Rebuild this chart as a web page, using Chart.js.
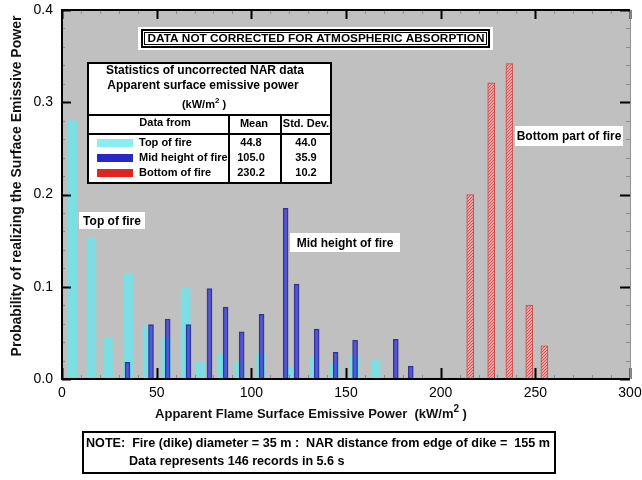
<!DOCTYPE html>
<html>
<head>
<meta charset="utf-8">
<script src="https://cdn.jsdelivr.net/npm/chart.js@4.4.0/dist/chart.umd.min.js"></script>
<style>
    html, body { margin: 0; padding: 0; background: #fff; }
    #wrap { width: 642px; height: 480px; }
</style>
</head>
<body>
<div id="wrap"><canvas id="sepChart" width="642" height="480"></canvas></div>
<script>
// bin centres (kW/m2) and probabilities
const topX = [5.5, 15.6, 24.3, 35, 45.2, 55, 65.3, 72.9, 84.6, 93.6, 105.2, 120.5, 133.7, 143.8, 154.3, 165.7];
const topY = [0.28, 0.153, 0.045, 0.114, 0.058, 0.045, 0.098, 0.018, 0.028, 0.018, 0.028, 0.013, 0.024, 0.017, 0.026, 0.02];
const midX = [34.6, 47.0, 55.8, 66.8, 77.9, 86.4, 94.9, 105.4, 118.1, 123.9, 134.5, 144.5, 154.8, 176.3, 184.2];
const midY = [0.018, 0.059, 0.065, 0.059, 0.098, 0.078, 0.051, 0.07, 0.185, 0.103, 0.054, 0.029, 0.042, 0.043, 0.014];
const botX = [215.6, 226.7, 236.3, 246.8, 254.8];
const botY = [0.2, 0.321, 0.342, 0.08, 0.036];

const xTicks = [0, 50, 100, 150, 200, 250, 300];
const yTicks = [0.0, 0.1, 0.2, 0.3, 0.4];

// statistics table
const statRows = ['Top of fire', 'Mid height of fire', 'Bottom of fire'];
const statMean = ['44.8', '105.0', '230.2'];
const statStd = ['44.0', '35.9', '10.2'];

const FONT = "'Liberation Sans', Arial, sans-serif";
const CYAN = '#7cdee2';
const BLUE = 'rgba(62, 62, 204, 0.8)';
const RED = '#d04848';

function toPoints(xs, ys) {
    return xs.map((x, i) => ({ x: x, y: ys[i] }));
}

function redHatch() {
    const c = document.createElement('canvas');
    c.width = 3; c.height = 3;
    const g = c.getContext('2d');
    g.fillStyle = '#e8a4a4';
    g.fillRect(0, 0, 3, 3);
    g.fillStyle = '#d25a5a';
    g.fillRect(2, 0, 1, 1);
    g.fillRect(1, 1, 1, 1);
    g.fillRect(0, 2, 1, 1);
    return g.createPattern(c, 'repeat');
}

function labelBox(ctx, text, x, y, w, h) {
    ctx.fillStyle = '#fff';
    ctx.fillRect(x, y, w, h);
    ctx.fillStyle = '#000';
    ctx.font = 'bold 12px ' + FONT;
    ctx.textAlign = 'center';
    ctx.textBaseline = 'middle';
    ctx.fillText(text, x + w / 2, y + h / 2 + 1);
}

// text with "m2" superscript, centred on cx
function supText(ctx, before, sup, after, cx, cy, size, weight) {
    ctx.textBaseline = 'middle';
    ctx.textAlign = 'left';
    const big = weight + ' ' + size + 'px ' + FONT;
    const small = weight + ' ' + Math.round(size * 0.75) + 'px ' + FONT;
    ctx.font = big;
    const w1 = ctx.measureText(before).width;
    const w3 = ctx.measureText(after).width;
    ctx.font = small;
    const w2 = ctx.measureText(sup).width;
    let x = cx - (w1 + w2 + w3) / 2;
    ctx.font = big;
    ctx.fillText(before, x, cy);
    ctx.font = small;
    ctx.fillText(sup, x + w1, cy - size * 0.4);
    ctx.font = big;
    ctx.fillText(after, x + w1 + w2, cy);
}

const framePlugin = {
    id: 'frame',
    beforeDatasetsDraw(chart) {
        const a = chart.chartArea;
        const ctx = chart.ctx;
        ctx.save();
        ctx.fillStyle = '#c0c0c0';
        ctx.fillRect(a.left, a.top, a.right - a.left, a.bottom - a.top);
        ctx.restore();
    },
    afterDatasetsDraw(chart) {
        const a = chart.chartArea;
        const ctx = chart.ctx;
        const xs = chart.scales.x, ys = chart.scales.y;
        ctx.save();
        // tick marks on all four sides, pointing in
        for (let i = 0; i <= 30; i++) {
            const px = Math.round(xs.getPixelForValue(i * 10)) + 0.5;
            const major = i % 5 === 0;
            ctx.strokeStyle = major ? '#000' : '#8a8a8a';
            ctx.lineWidth = major ? 2 : 1;
            ctx.beginPath();
            ctx.moveTo(px, a.bottom); ctx.lineTo(px, a.bottom - (major ? 11 : 4));
            ctx.moveTo(px, a.top); ctx.lineTo(px, a.top + (major ? 9 : 4));
            ctx.stroke();
        }
        for (let i = 0; i <= 20; i++) {
            const py = Math.round(ys.getPixelForValue(i * 0.02)) + 0.5;
            const major = i % 5 === 0;
            ctx.strokeStyle = major ? '#000' : '#8a8a8a';
            ctx.lineWidth = major ? 2 : 1;
            ctx.beginPath();
            ctx.moveTo(a.left, py); ctx.lineTo(a.left + (major ? 9 : 3), py);
            ctx.moveTo(a.right, py); ctx.lineTo(a.right - (major ? 10 : 4), py);
            ctx.stroke();
        }
        // frame
        ctx.strokeStyle = '#000';
        ctx.lineWidth = 2;
        ctx.beginPath();
        ctx.moveTo(a.right, a.top); ctx.lineTo(a.left, a.top);
        ctx.lineTo(a.left, a.bottom); ctx.lineTo(a.right, a.bottom);
        ctx.stroke();
        ctx.strokeStyle = '#909090';
        ctx.lineWidth = 1;
        ctx.beginPath();
        ctx.moveTo(a.right + 0.5, a.top); ctx.lineTo(a.right + 0.5, a.bottom);
        ctx.stroke();
        ctx.restore();
    },
    afterDraw(chart) {
        const ctx = chart.ctx;
        ctx.save();

        // axis titles
        ctx.fillStyle = '#111';
        ctx.save();
        ctx.translate(17, 186);
        ctx.rotate(-Math.PI / 2);
        ctx.font = 'bold 14px ' + FONT;
        ctx.textAlign = 'center';
        ctx.textBaseline = 'middle';
        ctx.fillText('Probability of realizing the Surface Emissive Power', 0, 0);
        ctx.restore();
        supText(ctx, 'Apparent Flame Surface Emissive Power  (kW/m', '2', ' )', 311, 414, 13, 'bold');

        // banner
        ctx.fillStyle = '#fff';
        ctx.fillRect(138, 27, 355, 23);
        ctx.strokeStyle = '#000';
        ctx.lineWidth = 2;
        ctx.strokeRect(142, 30, 347, 17);
        ctx.lineWidth = 1;
        ctx.strokeRect(144.5, 32.5, 342, 12);
        ctx.fillStyle = '#000';
        ctx.font = 'bold 11.8px ' + FONT;
        ctx.textAlign = 'center';
        ctx.textBaseline = 'middle';
        ctx.fillText('DATA NOT CORRECTED FOR ATMOSPHERIC ABSORPTION', 316, 39);

        // statistics table
        const tx = 88, ty = 63, tw = 243, th = 120;
        ctx.fillStyle = '#fff';
        ctx.fillRect(tx, ty, tw, th);
        ctx.strokeStyle = '#000';
        ctx.lineWidth = 2;
        ctx.strokeRect(tx, ty, tw, th);
        ctx.beginPath();
        ctx.moveTo(tx, 115); ctx.lineTo(tx + tw, 115);
        ctx.moveTo(tx, 134); ctx.lineTo(tx + tw, 134);
        ctx.moveTo(229, 115); ctx.lineTo(229, ty + th);
        ctx.moveTo(281, 115); ctx.lineTo(281, ty + th);
        ctx.stroke();
        ctx.fillStyle = '#000';
        ctx.textAlign = 'center';
        ctx.textBaseline = 'middle';
        ctx.font = 'bold 12px ' + FONT;
        ctx.fillText('Statistics of uncorrected NAR data', 205, 71);
        ctx.fillText('Apparent surface emissive power', 203, 86);
        supText(ctx, '(kW/m', '2', ' )', 204, 105, 11, 'bold');
        ctx.textAlign = 'center';
        ctx.font = 'bold 11px ' + FONT;
        ctx.fillText('Data from', 165, 123);
        ctx.fillText('Mean', 254, 124);
        ctx.fillText('Std. Dev.', 306, 124);
        const swatch = ['#8aeef0', '#2828c4', '#e02424'];
        statRows.forEach((name, i) => {
            const ry = 143 + i * 15;
            ctx.fillStyle = swatch[i];
            ctx.fillRect(97, ry - 4, 36, 8);
            ctx.fillStyle = '#000';
            ctx.textAlign = 'left';
            ctx.fillText(name, 139, ry);
            ctx.textAlign = 'center';
            ctx.fillText(statMean[i], 251, ry);
            ctx.fillText(statStd[i], 306, ry);
        });

        // series labels
        labelBox(ctx, 'Top of fire', 79, 212, 66, 17);
        labelBox(ctx, 'Mid height of fire', 290, 233, 110, 19);
        labelBox(ctx, 'Bottom part of fire', 515, 126, 108, 20);

        // note
        ctx.fillStyle = '#fff';
        ctx.fillRect(83, 432, 472, 41);
        ctx.strokeStyle = '#000';
        ctx.lineWidth = 2;
        ctx.strokeRect(83, 432, 472, 41);
        ctx.fillStyle = '#000';
        ctx.font = 'bold 12.6px ' + FONT;
        ctx.textAlign = 'left';
        ctx.fillText('NOTE:  Fire (dike) diameter = 35 m :  NAR distance from edge of dike =  155 m', 86, 444);
        ctx.fillText('Data represents 146 records in 5.6 s', 129, 462);

        ctx.restore();
    }
};

const ctx = document.getElementById('sepChart').getContext('2d');
const sepChart = new Chart(ctx, {
    type: 'bar',
    data: {
        datasets: [
            {
                label: 'Top of fire',
                data: toPoints(topX, topY),
                backgroundColor: CYAN,
                barThickness: 9,
                grouped: false,
                order: 3
            },
            {
                label: 'Mid height of fire',
                data: toPoints(midX, midY),
                backgroundColor: BLUE,
                borderColor: 'rgba(36, 36, 150, 0.9)',
                borderWidth: 1,
                barThickness: 5,
                grouped: false,
                order: 2
            },
            {
                label: 'Bottom of fire',
                data: toPoints(botX, botY),
                backgroundColor: redHatch(),
                borderColor: RED,
                borderWidth: 1,
                barThickness: 7,
                grouped: false,
                order: 1
            }
        ]
    },
    options: {
        responsive: false,
        animation: false,
        layout: { padding: { left: 0, right: 12, top: 10, bottom: 0 } },
        plugins: {
            legend: { display: false },
            tooltip: { enabled: false }
        },
        scales: {
            x: {
                type: 'linear',
                min: 0,
                max: 300,
                offset: false,
                grid: { display: false, drawTicks: false },
                border: { display: false },
                ticks: {
                    color: '#000',
                    padding: 6,
                    maxRotation: 0,
                    autoSkip: false,
                    font: { family: FONT, size: 14 }
                },
                afterBuildTicks: s => { s.ticks = xTicks.map(v => ({ value: v })); },
                afterFit: s => { s.height = 101; s.paddingLeft = 0; s.paddingRight = 0; }
            },
            y: {
                min: 0,
                max: 0.4,
                grid: { display: false, drawTicks: false },
                border: { display: false },
                ticks: {
                    color: '#000',
                    padding: 9,
                    autoSkip: false,
                    font: { family: FONT, size: 14 },
                    callback: v => v.toFixed(1)
                },
                afterBuildTicks: s => { s.ticks = yTicks.map(v => ({ value: v })); },
                afterFit: s => { s.width = 62; s.paddingTop = 0; s.paddingBottom = 0; }
            }
        }
    },
    plugins: [framePlugin]
});
</script>
</body>
</html>
